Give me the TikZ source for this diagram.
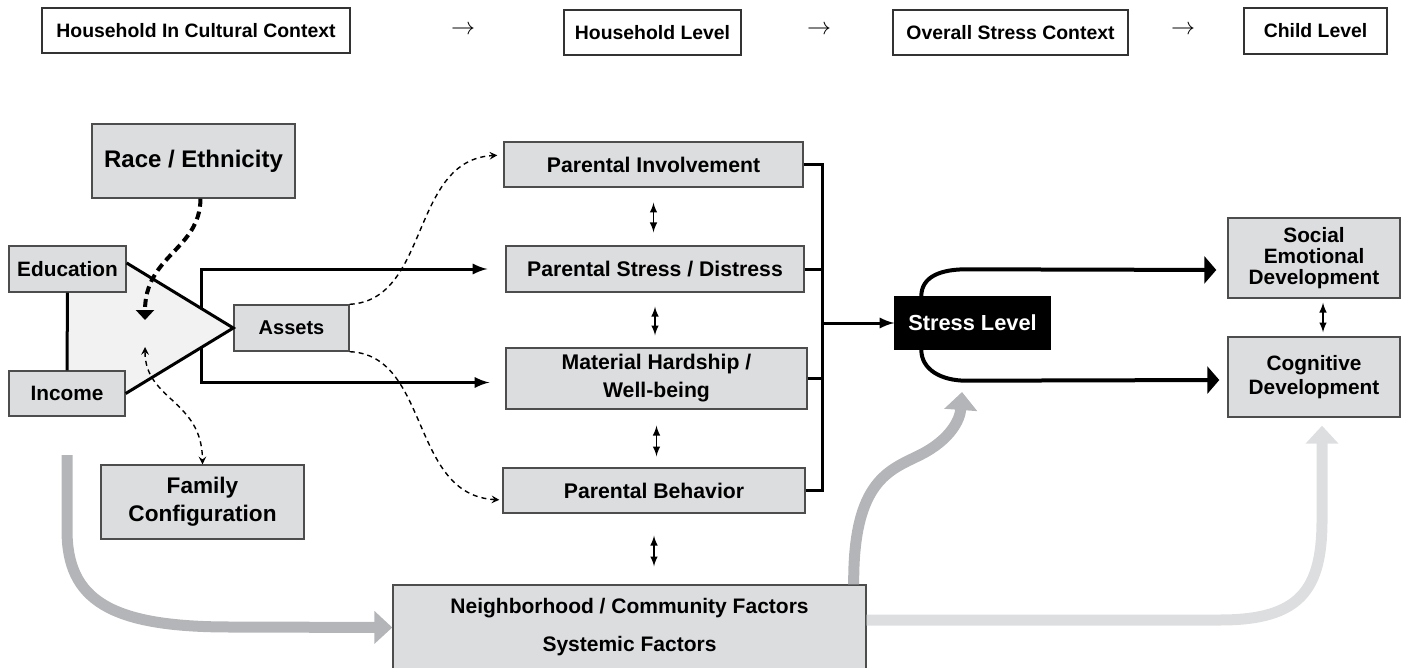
\documentclass[tikz,border=0pt]{standalone}
\usepackage{fontspec}
\setmainfont{Liberation Sans}
\usepackage{tikz}
\usetikzlibrary{arrows, arrows.meta, calc, backgrounds}
\definecolor{boxfill}{HTML}{DCDDDF}
\definecolor{boxline}{HTML}{4D4D4D}
\definecolor{midgray}{HTML}{B4B5B8}
\definecolor{palegray}{HTML}{DDDEE0}
\definecolor{wedgefill}{HTML}{F2F2F2}
\tikzset{box/.style={draw=boxline, fill=boxfill, line width=.7pt, align=center, inner sep=0pt},
	txt/.style 2 args={font=\bfseries\fontsize{#1}{#2}\selectfont},
	hdrbox/.style={draw=black!80, line width=.6pt, inner sep=0pt, txt={9.7}{11}},
	link/.style={line width=1.5pt},
	dbl/.style={latex-latex, line width=.7pt},
	thindash/.style={line width=.7pt, dash pattern=on 2.5pt off 2pt},
	fat/.style={line width=2pt, -{Triangle[length=6pt,width=13.5pt]}},
	grayarrow/.style={line width=5.5pt, draw=#1, -{Triangle[length=9pt,width=16pt]}}}

\begin{document}
\begin{tikzpicture}[x=.5pt, y=-.5pt]
	
	\useasboundingbox (0,0) rectangle (1423,668);
	
	% top row
	\node [hdrbox, minimum width=154pt, minimum height=22.5pt] (hdrA) at (196,30.5) {Household In Cultural Context};
	\node [hdrbox, minimum width=88.5pt, minimum height=22.5pt] (hdrB) at (652.5,32.5) {Household Level};
	\node [hdrbox, minimum width=117.5pt, minimum height=22.5pt] (hdrC) at (1010.5,32.5) {Overall Stress Context};
	\node [hdrbox, minimum width=71.5pt, minimum height=23pt] (hdrD) at (1315.5,31) {Child Level};
	\node [font=\fontsize{12}{12}\selectfont] (arA) at (463,30) {$\rightarrow$};
	\node [font=\fontsize{12}{12}\selectfont] (arB) at (819,30) {$\rightarrow$};
	\node [font=\fontsize{12}{12}\selectfont] (arC) at (1183,30) {$\rightarrow$};
	
	% household in cultural context
	\node [box, txt={12}{14}, minimum width=101.5pt, minimum height=37pt] (race) at (193.5,161) {Race / Ethnicity};
	\node [box, txt={10.4}{12}, minimum width=58.5pt, minimum height=23pt] (edu) at (67.5,269) {Education};
	\node [box, txt={10.4}{12}, minimum width=58pt, minimum height=22.5pt] (inc) at (67,393.5) {Income};
	\node [box, txt={10}{12}, minimum width=57.5pt, minimum height=23pt] (assets) at (291.5,328) {Assets};
	\node [box, txt={11.3}{14}, minimum width=101.5pt, minimum height=37pt] (family) at (202.5,502) {Family\\Configuration};
	
	% household level
	\node [box, txt={10.6}{12}, minimum width=149.5pt, minimum height=22.5pt] (pinv) at (653.5,164.5) {Parental Involvement};
	\node [box, txt={10.6}{12}, minimum width=149pt, minimum height=23pt] (pstr) at (655,269) {Parental Stress / Distress};
	\node [box, txt={10.6}{14}, minimum width=150.5pt, minimum height=30.5pt] (mat) at (656.5,378.5) {Material Hardship /\\Well-being};
	\node [box, txt={10.6}{12}, minimum width=151pt, minimum height=22.5pt] (pbeh) at (654,490.5) {Parental Behavior};
	\node [box, txt={10.5}{19}, minimum width=236.5pt, minimum height=42.5pt] (neigh) at (629.5,627.5) {Neighborhood / Community Factors\\Systemic Factors};
	
	% stress and child level
	\node [box, fill=black, draw=black, text=white, txt={10.9}{12}, minimum width=77.5pt, minimum height=26pt] (stress) at (972.5,323) {Stress Level};
	\node [box, txt={10.4}{10.5}, minimum width=86pt, minimum height=40pt] (social) at (1314,258) {Social\\Emotional\\Development};
	\node [box, txt={10.4}{12}, minimum width=86pt, minimum height=40pt] (cog) at (1314,377) {Cognitive\\Development};
	
	\coordinate (tU) at ([yshift=3pt]edu.east);
	\coordinate (tL) at (inc.east);
	\coordinate (rEnd) at (145,320);
	\coordinate (fEnd) at (145,347);
	\coordinate (bus) at (822,323);
	\coordinate (gStart) at (67,455);
	\coordinate (sTip) at (962,392);
	
	\begin{scope}[on background layer]
	\fill [wedgefill] (edu.south) -- (edu.south east) -- (tU) -- (assets.west) -- (tL) -- (inc.north east) -- (inc.north) -- cycle;
	\end{scope}
	
	\draw [link] (edu) -- (inc);
	\draw [link] (tU) -- (assets.west) -- (tL);
	\draw [link, -latex, shorten >=9pt] ($(tU)!.7!(assets.west)$) |- (pstr.west);
	\draw [link, -latex, shorten >=8pt] ($(tL)!.7!(assets.west)$) |- ([yshift=-2pt]mat.west);
	
	\draw [line width=2pt, dash pattern=on 4pt off 2.5pt, -{Triangle[length=5pt,width=9pt]}] ([xshift=3.5pt]race.south) .. controls (200,250) and (145,255) .. (rEnd);
	\draw [thindash, stealth-stealth] (fEnd) .. controls (145,400) and (202,400) .. (family.north);
	\draw [thindash, -stealth, shorten >=3pt] (assets.north east) .. controls (430,300) and (410,160) .. ([yshift=4.75pt]pinv.west);
	\draw [thindash, -stealth, shorten >=1.5pt] (assets.south east) .. controls (430,355) and (410,495) .. ([yshift=-4.75pt]pbeh.west);
	
	\draw [dbl, shorten <=7.5pt, shorten >=6.5pt] (pinv.south) -- (pinv.south |- pstr.north);
	\draw [dbl, shorten <=7pt, shorten >=6pt] (pstr.south) -- (pstr.south |- mat.north);
	\draw [dbl, shorten <=8pt, shorten >=5.5pt] (mat.south) -- (mat.south |- pbeh.north);
	\draw [dbl, shorten <=11pt, shorten >=9pt] (pbeh.south) -- (pbeh.south |- neigh.north);
	\draw [dbl, shorten <=2pt, shorten >=2pt] ([xshift=4.5pt]social.south) -- ([xshift=4.5pt]cog.north);
	
	\draw [link] (pinv.east) -| (bus);
	\draw [link] (pbeh.east) -| (bus);
	\draw [link] (pstr.east) -- (pstr.east -| bus);
	\draw [link] (mat.east) -- (mat.east -| bus);
	\draw [link, -latex] (bus) -- (stress.west);
	
	\draw [fat, shorten >=5.5pt] ([xshift=13.5pt]stress.north west) .. controls +(0,-20) and +(-25,0) .. ++(45,-27) -- ([yshift=-6pt]social.west);
	\draw [fat, shorten >=4pt] ([xshift=13.5pt]stress.south west) .. controls +(0,20) and +(-25,0) .. ++(45,31) -- ([yshift=-1.5pt]cog.west);
	
	% gray paths
	\draw [grayarrow=midgray] (gStart) -- (67,530) .. controls (67,600) and (110,627) .. (230,627) -- (neigh.west);
	\draw [grayarrow=midgray] ([xshift=-6.5pt]neigh.north east) .. controls (853,480) and (890,470) .. (920,455) .. controls (950,440) and (960,420) .. (sTip);
	\draw [grayarrow=palegray, shorten >=4pt] ([yshift=3.75pt]neigh.east) -- (1220,620) .. controls (1300,620) and (1322,590) .. (1322,520) -- ([xshift=4pt]cog.south);
	
\end{tikzpicture}
\end{document}
